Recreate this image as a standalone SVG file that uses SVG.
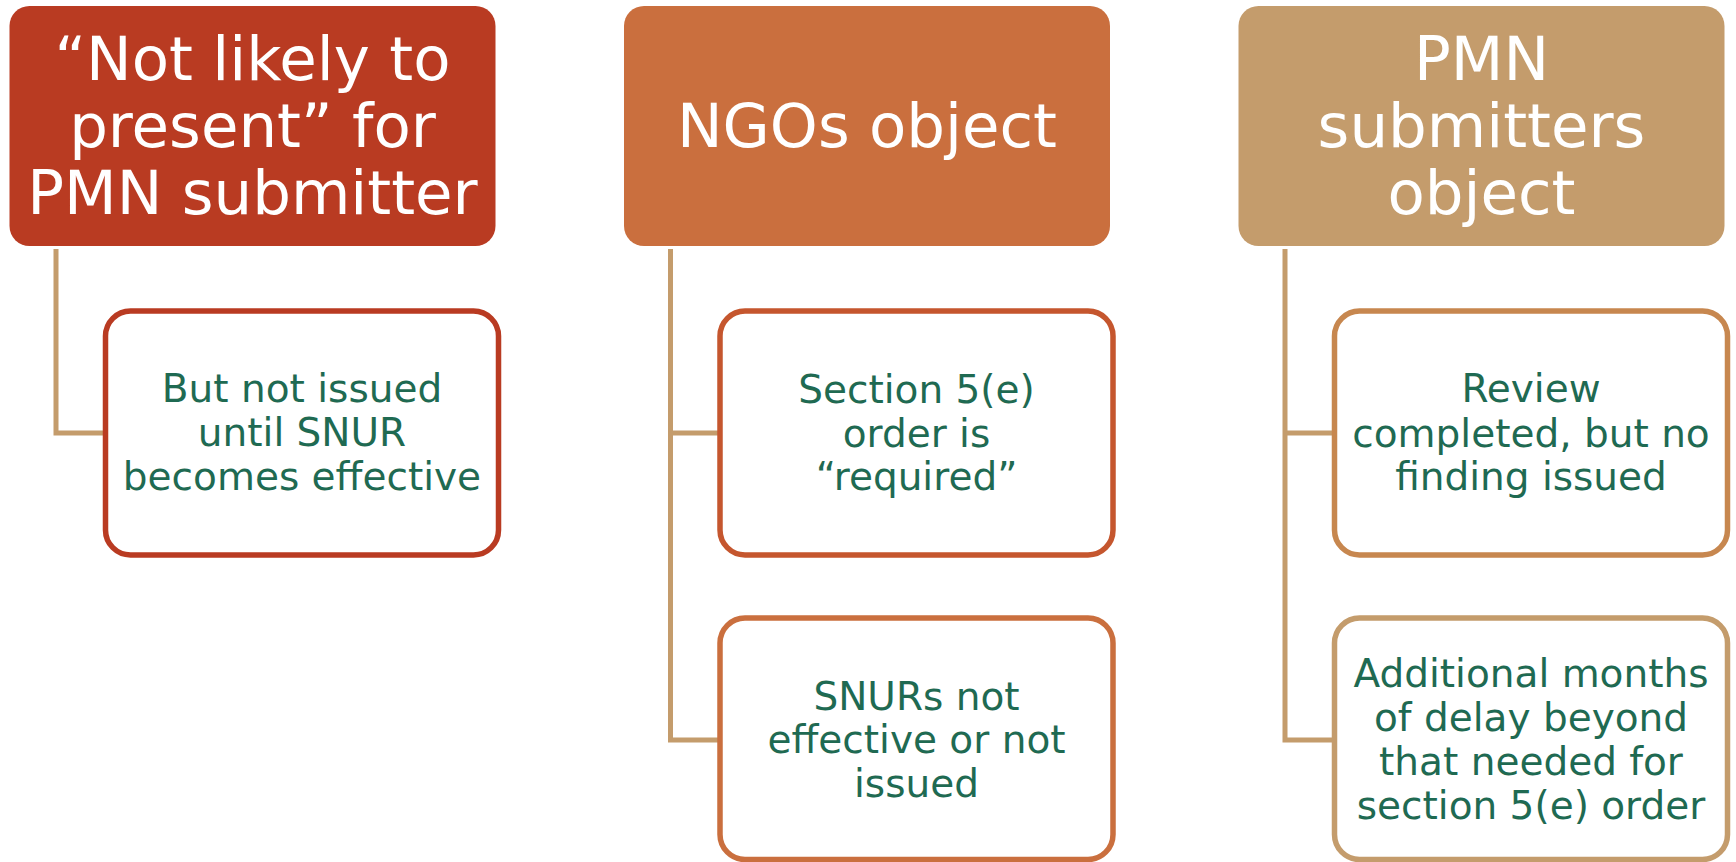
<svg xmlns="http://www.w3.org/2000/svg" width="1736" height="862" viewBox="0 0 1736 862">
<style>
.hd{font-family:"DejaVu Sans","Verdana",sans-serif;font-size:61px;fill:#ffffff;text-anchor:middle}
.ct{font-family:"DejaVu Sans","Verdana",sans-serif;font-size:39px;fill:#1f6a52;text-anchor:middle}
.ch{fill:#ffffff;stroke-width:5.5}
.cn{fill:none;stroke:#c49c6c;stroke-width:5;stroke-linejoin:miter}
</style>
<rect width="1736" height="862" fill="#ffffff"/>
<g id="connectors">
<path class="cn" d="M56,249 V433 H105.5"/>
<path class="cn" d="M670.5,249 V740 H720 M670.5,433 H720"/>
<path class="cn" d="M1285,249 V740 H1334.5 M1285,433 H1334.5"/>
</g>
<g id="h1">
<rect x="9.5" y="6" width="486" height="240" rx="20" fill="#b93b22"/>
<text class="hd" x="252.5" y="80">“Not likely to</text>
<text class="hd" x="252.5" y="147">present” for</text>
<text class="hd" x="252.5" y="214">PMN submitter</text>
</g>
<g id="h2">
<rect x="624" y="6" width="486" height="240" rx="20" fill="#ca6f3e"/>
<text class="hd" x="867" y="147">NGOs object</text>
</g>
<g id="h3">
<rect x="1238.5" y="6" width="486" height="240" rx="20" fill="#c49c6c"/>
<text class="hd" x="1481.5" y="80">PMN</text>
<text class="hd" x="1481.5" y="147">submitters</text>
<text class="hd" x="1481.5" y="214">object</text>
</g>
<g id="c1">
<rect class="ch" x="105.5" y="311" width="393" height="244" rx="25" stroke="#b93b22"/>
<text class="ct" x="302" y="402">But not issued</text>
<text class="ct" x="302" y="446">until SNUR</text>
<text class="ct" x="302" y="490">becomes effective</text>
</g>
<g id="c2">
<rect class="ch" x="720" y="311" width="393" height="244" rx="25" stroke="#c5562e"/>
<text class="ct" x="916.5" y="403">Section 5(e)</text>
<text class="ct" x="916.5" y="447">order is</text>
<text class="ct" x="916.5" y="490">“required”</text>
</g>
<g id="c3">
<rect class="ch" x="720" y="618" width="393" height="241.5" rx="25" stroke="#ca6f3e"/>
<text class="ct" x="916.5" y="710">SNURs not</text>
<text class="ct" x="916.5" y="753">effective or not</text>
<text class="ct" x="916.5" y="797">issued</text>
</g>
<g id="c4">
<rect class="ch" x="1334.5" y="311" width="393" height="244" rx="25" stroke="#c7874f"/>
<text class="ct" x="1531" y="402">Review</text>
<text class="ct" x="1531" y="447">completed, but no</text>
<text class="ct" x="1531" y="490">finding issued</text>
</g>
<g id="c5">
<rect class="ch" x="1334.5" y="618" width="393" height="241.5" rx="25" stroke="#c49c6c"/>
<text class="ct" x="1531" y="687">Additional months</text>
<text class="ct" x="1531" y="731">of delay beyond</text>
<text class="ct" x="1531" y="775">that needed for</text>
<text class="ct" x="1531" y="819">section 5(e) order</text>
</g>
</svg>
